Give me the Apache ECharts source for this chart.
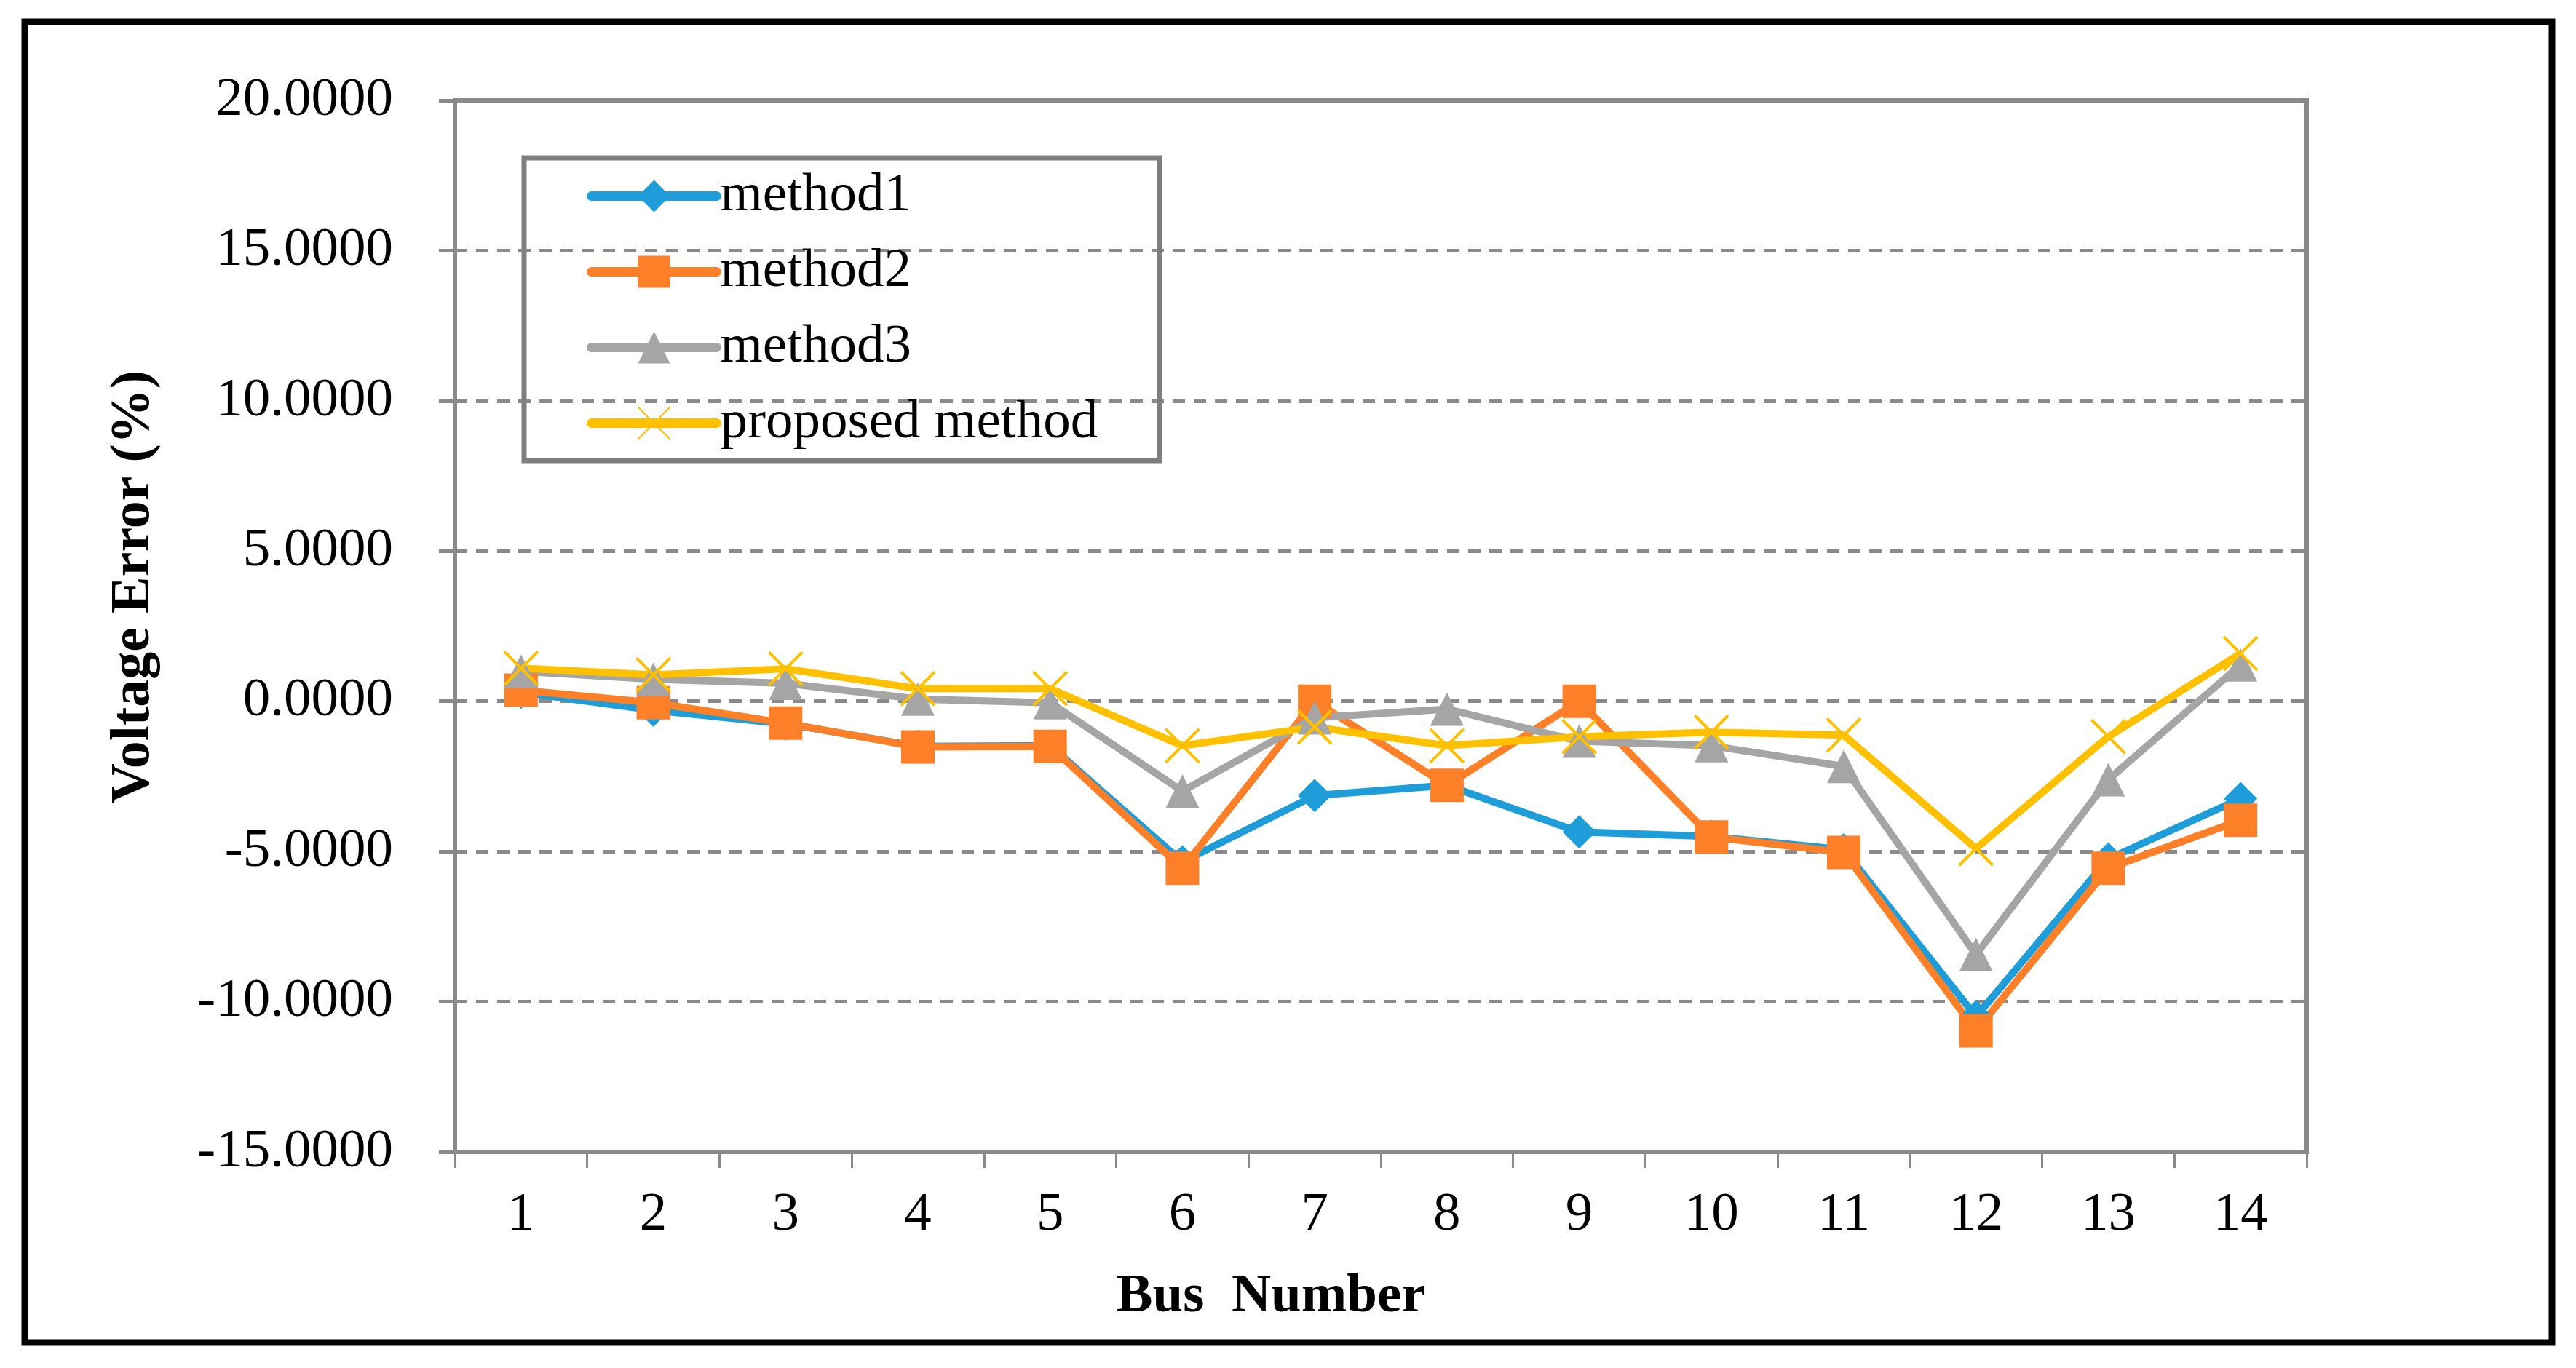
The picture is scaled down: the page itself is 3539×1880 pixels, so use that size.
<!DOCTYPE html>
<html>
<head>
<meta charset="utf-8">
<script src="https://cdn.jsdelivr.net/npm/echarts@6/dist/echarts.min.js"></script>
<style>
html,body{margin:0;padding:0;background:#fff;}
#chart{width:3539px;height:1880px;}
</style>
</head>
<body>
<div id="chart"></div>
<script>
var categories = ['1','2','3','4','5','6','7','8','9','10','11','12','13','14'];
var method1 = [0.30, -0.30, -0.75, -1.50, -1.48, -5.35, -3.14, -2.80, -4.35, -4.50, -4.94, -10.50, -5.25, -3.24];
var method2 = [0.37, -0.05, -0.73, -1.52, -1.50, -5.56, 0.00, -2.80, 0.00, -4.52, -5.03, -10.97, -5.56, -3.96];
var method3 = [1.00, 0.73, 0.60, 0.07, -0.05, -2.99, -0.55, -0.26, -1.33, -1.48, -2.17, -8.43, -2.61, 1.21];
var proposed = [1.10, 0.88, 1.08, 0.42, 0.42, -1.48, -0.86, -1.48, -1.18, -1.03, -1.13, -4.90, -1.18, 1.59];
var seriesNames = ['method1', 'method2', 'method3', 'proposed method'];

var FONT = '"Liberation Serif", "Times New Roman", serif';
var AXIS_GRAY = '#8a8a8a';

var chart = echarts.init(document.getElementById('chart'), null, {renderer: 'canvas'});

function lineSeries(name, data, color, symbol, extraItem) {
  var itemStyle = Object.assign({color: color}, extraItem || {});
  return {
    name: name,
    type: 'line',
    data: data,
    symbol: symbol,
    symbolSize: 46,
    showSymbol: true,
    lineStyle: {color: color, width: 10},
    itemStyle: itemStyle,
    emphasis: {disabled: true}
  };
}

var option = {
  animation: false,
  backgroundColor: '#ffffff',
  color: ['#1f9dd9', '#fd7f28', '#a5a5a5', '#ffc000'],
  grid: {
    left: 625, right: 370, top: 138, bottom: 297,
    containLabel: false,
    show: true,
    borderColor: AXIS_GRAY,
    borderWidth: 6,
    backgroundColor: 'transparent'
  },
  legend: {
    orient: 'vertical',
    left: 720,
    top: 217,
    padding: [15, 85, 14, 86],
    itemWidth: 172,
    itemHeight: 55,
    itemGap: 29,
    borderColor: '#7f7f7f',
    borderWidth: 7,
    backgroundColor: 'transparent',
    data: seriesNames,
    lineStyle: {width: 13, cap: 'round'},
    textStyle: {
      fontFamily: FONT,
      fontSize: 75,
      lineHeight: 75,
      color: '#000'
    }
  },
  xAxis: {
    type: 'category',
    data: categories,
    boundaryGap: true,
    name: 'Bus  Number',
    nameLocation: 'middle',
    nameGap: 162,
    nameTextStyle: {
      fontFamily: FONT,
      fontSize: 75,
      lineHeight: 75,
      fontWeight: 'bold',
      color: '#000',
      padding: [0, 302, 0, 0]
    },
    axisLine: {show: true, onZero: false, lineStyle: {color: AXIS_GRAY, width: 6}},
    axisTick: {show: true, inside: false, length: 22, alignWithLabel: false, lineStyle: {color: AXIS_GRAY, width: 3}},
    axisLabel: {
      margin: 50,
      fontFamily: FONT,
      fontSize: 75,
      lineHeight: 75,
      color: '#000'
    },
    splitLine: {show: false}
  },
  yAxis: {
    type: 'value',
    min: -15,
    max: 20,
    interval: 5,
    name: 'Voltage Error (%)',
    nameLocation: 'middle',
    nameRotate: 90,
    nameGap: 403,
    nameTextStyle: {
      fontFamily: FONT,
      fontSize: 76,
      lineHeight: 76,
      fontWeight: 'bold',
      color: '#000',
      padding: [0, 0, 0, 108]
    },
    axisLine: {show: true, lineStyle: {color: AXIS_GRAY, width: 6}},
    axisTick: {show: true, inside: false, length: 22, lineStyle: {color: AXIS_GRAY, width: 5}},
    axisLabel: {
      margin: 85,
      fontFamily: FONT,
      fontSize: 75,
      color: '#000',
      formatter: function (v) { return v.toFixed(4); }
    },
    splitLine: {show: true, lineStyle: {color: AXIS_GRAY, width: 5, type: [17, 12]}}
  },
  graphic: [{
    type: 'rect',
    silent: true,
    shape: {x: 34, y: 30, width: 3472, height: 1815},
    style: {fill: 'none', stroke: '#000', lineWidth: 9},
    z: 100
  }],
  series: [
    lineSeries(seriesNames[0], method1, '#1f9dd9', 'diamond'),
    lineSeries(seriesNames[1], method2, '#fd7f28', 'rect'),
    lineSeries(seriesNames[2], method3, '#a5a5a5', 'triangle'),
    lineSeries(seriesNames[3], proposed, '#ffc000', 'path://M0,0L10,10M10,0L0,10',
      {borderColor: '#ffc000', borderWidth: 4})
  ]
};

chart.setOption(option);
</script>
</body>
</html>
